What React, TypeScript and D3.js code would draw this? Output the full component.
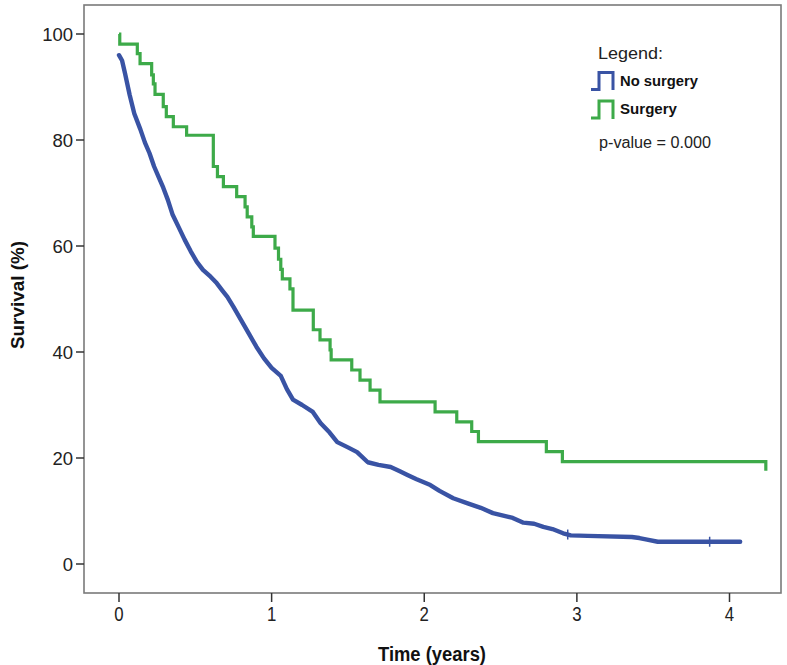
import React from "react";
import * as d3 from "d3";

const noSurgeryTime = [0.0, 0.02, 0.04, 0.07, 0.1, 0.14, 0.17, 0.2, 0.23, 0.26, 0.29, 0.32, 0.35, 0.39, 0.43, 0.47, 0.51, 0.55, 0.6, 0.64, 0.68, 0.71, 0.75, 0.8, 0.85, 0.9, 0.95, 1.0, 1.06, 1.1, 1.14, 1.2, 1.27, 1.32, 1.38, 1.43, 1.5, 1.56, 1.63, 1.7, 1.78, 1.84, 1.89, 1.95, 2.04, 2.1, 2.19, 2.28, 2.37, 2.45, 2.58, 2.65, 2.72, 2.78, 2.84, 2.91, 2.96, 3.07, 3.36, 3.41, 3.46, 3.53, 4.07];
const noSurgerySurv = [96.0, 95.0, 92.5, 88.5, 85.0, 82.0, 79.5, 77.5, 75.0, 73.0, 71.0, 68.7, 66.0, 63.6, 61.2, 59.0, 57.0, 55.5, 54.2, 53.0, 51.5, 50.4, 48.5, 46.0, 43.5, 41.0, 38.8, 37.0, 35.5, 33.0, 31.0, 30.0, 28.7, 26.6, 24.8, 23.0, 22.0, 21.1, 19.2, 18.7, 18.3, 17.5, 16.8, 16.0, 14.9, 13.8, 12.4, 11.5, 10.6, 9.6, 8.7, 7.8, 7.6, 7.0, 6.6, 5.8, 5.4, 5.3, 5.1, 4.9, 4.6, 4.2, 4.2];
const noSurgeryCensor = [2.94, 3.87];

const surgeryTime = [0.0, 0.005, 0.12, 0.138, 0.214, 0.225, 0.236, 0.29, 0.31, 0.356, 0.443, 0.618, 0.645, 0.684, 0.771, 0.826, 0.84, 0.87, 0.88, 1.022, 1.045, 1.06, 1.07, 1.12, 1.14, 1.273, 1.317, 1.383, 1.39, 1.525, 1.579, 1.645, 1.71, 2.071, 2.213, 2.311, 2.355, 2.8, 2.905, 4.238];
const surgerySurv = [100, 98.1, 96.3, 94.4, 92.3, 90.6, 88.6, 86.3, 84.4, 82.5, 80.9, 75.0, 73.1, 71.2, 69.3, 67.4, 65.5, 63.6, 61.8, 59.6, 57.5, 55.6, 53.8, 51.9, 47.9, 44.2, 42.3, 40.4, 38.5, 36.6, 34.7, 32.8, 30.6, 28.7, 26.8, 25.0, 23.1, 21.2, 19.3, 17.6];

const xTicks = [0, 1, 2, 3, 4];
const yTicks = [0, 20, 40, 60, 80, 100];

const BLUE = "#3953A4";
const GREEN = "#3DAA49";

export default function App() {
  const W = 787, H = 665;
  const frame = { left: 84, right: 781, top: 5, bottom: 593 };
  const x = d3.scaleLinear().domain([0, 4]).range([119, 729.5]);
  const y = d3.scaleLinear().domain([0, 100]).range([564, 34]);

  const stepLine = d3
    .line<[number, number]>()
    .x((d) => x(d[0]))
    .y((d) => y(d[1]))
    .curve(d3.curveStepAfter);
  const denseLine = d3
    .line<[number, number]>()
    .x((d) => x(d[0]))
    .y((d) => y(d[1]))
    .curve(d3.curveLinear);

  const blueData: [number, number][] = noSurgeryTime.map((t, i) => [t, noSurgerySurv[i]]);
  const greenData: [number, number][] = surgeryTime.map((t, i) => [t, surgerySurv[i]]);

  const survAt = (t: number) => {
    const i = d3.bisectRight(noSurgeryTime, t);
    if (i <= 0) return noSurgerySurv[0];
    if (i >= noSurgeryTime.length) return noSurgerySurv[noSurgerySurv.length - 1];
    const t0 = noSurgeryTime[i - 1], t1 = noSurgeryTime[i];
    const s0 = noSurgerySurv[i - 1], s1 = noSurgerySurv[i];
    return s0 + ((t - t0) / (t1 - t0)) * (s1 - s0);
  };

  const font = "Arial, 'Liberation Sans', sans-serif";

  return (
    <svg
      width={W}
      height={H}
      style={{ position: "absolute", left: 0, top: 0, background: "#fff" }}
      fontFamily={font}
    >
      <rect x={0} y={0} width={W} height={H} fill="#fff" />
      <rect
        x={frame.left}
        y={frame.top}
        width={frame.right - frame.left}
        height={frame.bottom - frame.top}
        fill="none"
        stroke="#7a7a7a"
        strokeWidth={1.6}
      />
      {yTicks.map((v) => (
        <g key={"y" + v}>
          <line x1={frame.left - 8} x2={frame.left} y1={y(v)} y2={y(v)} stroke="#333" strokeWidth={1.5} />
          <text x={frame.left - 11} y={y(v)} dy="0.36em" textAnchor="end" fontSize={18.5} fill="#222">
            {v}
          </text>
        </g>
      ))}
      {xTicks.map((v) => (
        <g key={"x" + v}>
          <line x1={x(v)} x2={x(v)} y1={frame.bottom} y2={frame.bottom + 9} stroke="#333" strokeWidth={1.5} />
          <text
            x={x(v)}
            y={621.5}
            textAnchor="middle"
            fontSize={21}
            fill="#222"
            transform={`translate(${x(v)},0) scale(0.8,1) translate(${-x(v)},0)`}
          >
            {v}
          </text>
        </g>
      ))}
      <text
        x={378}
        y={661}
        fontSize={20}
        fontWeight="bold"
        fill="#111"
        textLength={108}
        lengthAdjust="spacingAndGlyphs"
      >
        Time (years)
      </text>
      <text
        transform={`translate(24,349) rotate(-90)`}
        fontSize={18}
        fontWeight="bold"
        fill="#111"
        textLength={108}
        lengthAdjust="spacingAndGlyphs"
      >
        Survival (%)
      </text>

      <path d={stepLine(greenData) || ""} fill="none" stroke={GREEN} strokeWidth={3.2} />
      <path
        d={denseLine(blueData) || ""}
        fill="none"
        stroke={BLUE}
        strokeWidth={4.4}
        strokeLinejoin="round"
        strokeLinecap="round"
      />
      {noSurgeryCensor.map((t) => (
        <line
          key={"c" + t}
          x1={x(t)}
          x2={x(t)}
          y1={y(survAt(t)) - 5}
          y2={y(survAt(t)) + 5}
          stroke={BLUE}
          strokeWidth={1.5}
        />
      ))}

      <text x={598} y={59} fontSize={16} fill="#222" textLength={65} lengthAdjust="spacingAndGlyphs">
        Legend:
      </text>
      <path d="M591,89.5 H599 V72.5 H613 V90" fill="none" stroke={BLUE} strokeWidth={3} />
      <text x={620} y={86} fontSize={14.5} fontWeight="bold" fill="#111" textLength={78} lengthAdjust="spacingAndGlyphs">
        No surgery
      </text>
      <path d="M591,118 H599 V101 H613 V119" fill="none" stroke={GREEN} strokeWidth={3} />
      <text x={620} y={114} fontSize={15} fontWeight="bold" fill="#111" textLength={57} lengthAdjust="spacingAndGlyphs">
        Surgery
      </text>
      <text x={599} y={147.5} fontSize={16} fill="#222" textLength={112} lengthAdjust="spacingAndGlyphs">
        p-value = 0.000
      </text>
    </svg>
  );
}
